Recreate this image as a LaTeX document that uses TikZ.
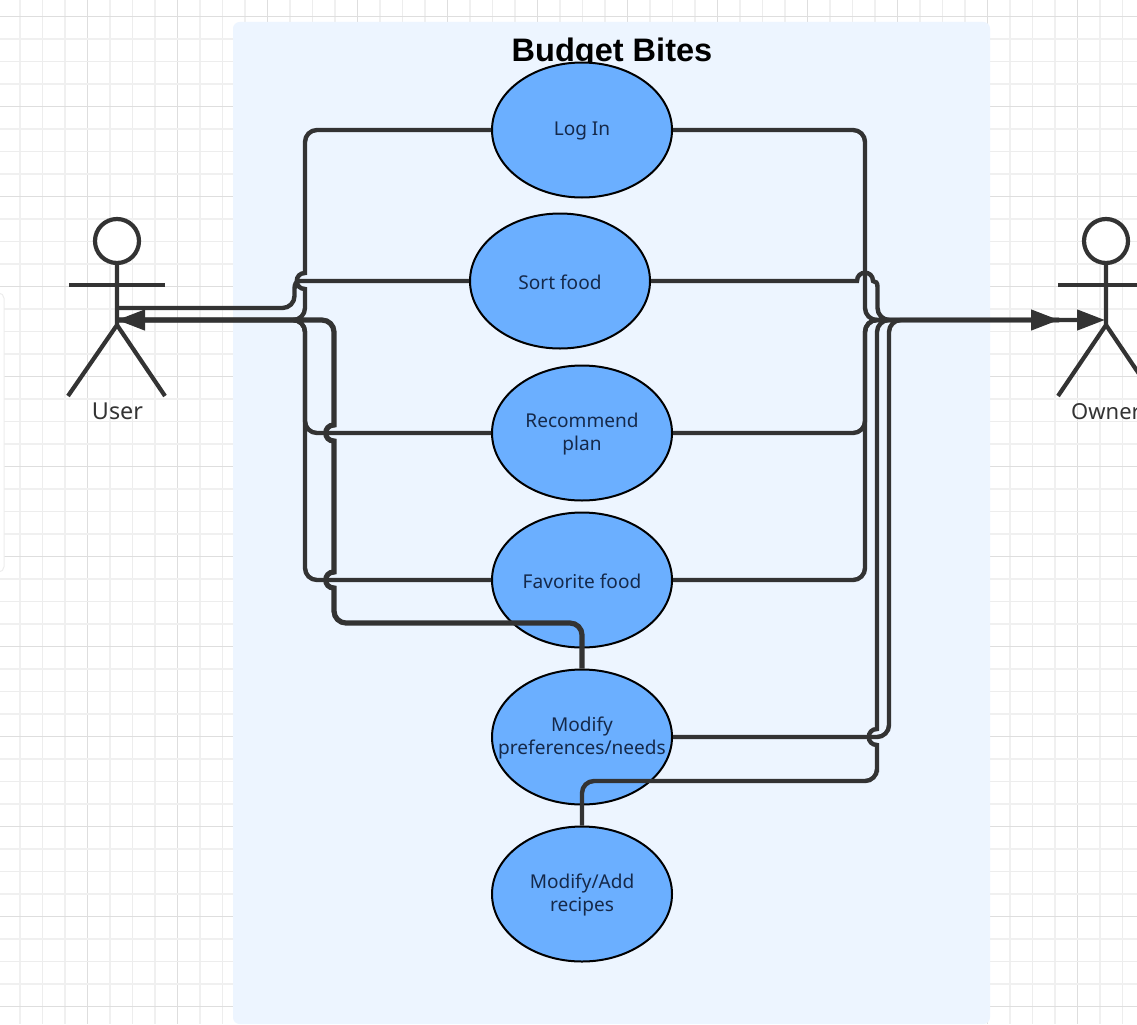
\documentclass[tikz,border=0pt]{standalone}
\usepackage{fontspec}
\setmainfont{Noto Sans}
\newfontfamily\titlefont{Liberation Sans}
\usetikzlibrary{shapes.geometric,arrows.meta}
\definecolor{gridA}{HTML}{F0F0F0}
\definecolor{gridB}{HTML}{EDEDED}
\definecolor{gridC}{HTML}{DEDEDE}
\definecolor{panel}{HTML}{EDF5FF}
\definecolor{usecase}{HTML}{6BAFFF}
\definecolor{ink}{HTML}{333333}
\definecolor{casetext}{HTML}{15294A}
\tikzset{
  usecasebox/.style={ellipse,draw=black,line width=1.5pt,fill=usecase,minimum width=135pt,minimum height=101.25pt,inner sep=0pt},
  caselabel/.style={align=center,text=casetext,inner sep=0pt,yshift=-0.9pt,font=\fontsize{14.3}{17.25}\selectfont},
  link/.style={draw=ink,line width=3.3pt,rounded corners=9pt},
  heavylink/.style={link,line width=3.9pt},
  tiplink/.style={-{Triangle[length=21pt,width=15pt,fill=ink]}},
  limb/.style={draw=ink,line width=3.15pt},
  actorlabel/.style={font=\fontsize{17.5}{20}\selectfont,text=ink,inner sep=0pt},
  thingrid/.style={line width=1pt},
  widegrid/.style={line width=1.65pt},
}
\begin{document}
\begin{tikzpicture}[x=0.75pt,y=-0.75pt]
\useasboundingbox (0,0) rectangle (1137,1024);
\fill[white] (0,0) rectangle (1137,1024);
% grid
\foreach \i in {0,...,50}{
  \pgfmathsetmacro{\gx}{20+22.5*\i}
  \pgfmathtruncatemacro{\m}{mod(\i,4)}
  \ifnum\m=3 \draw[gridC,thingrid] (\gx,0) -- (\gx,1024);
  \else\ifodd\i \draw[gridB,thingrid] (\gx,0) -- (\gx,1024);
  \else \draw[gridA,widegrid] (\gx,0) -- (\gx,1024);\fi\fi
}
\foreach \i in {0,...,45}{
  \pgfmathsetmacro{\gy}{16.5+22.5*\i}
  \pgfmathtruncatemacro{\m}{mod(\i,4)}
  \ifnum\m=0 \draw[gridC,thingrid] (0,\gy) -- (1137,\gy);
  \else\ifodd\i \draw[gridA,widegrid] (0,\gy) -- (1137,\gy);
  \else \draw[gridB,thingrid] (0,\gy) -- (1137,\gy);\fi\fi
}
% left edge side panel
\draw[white!93!black,fill=white,line width=0.75pt,rounded corners=4pt] (-20,293) rectangle (4,572);
% system panel
\fill[panel,rounded corners=5pt] (233,22) rectangle (990,1024);
\node[font=\titlefont\fontsize{24.4}{28}\bfseries\selectfont,text=black,inner sep=0pt] (title) at (612,53) {Budget Bites};
% use cases
\node[usecasebox,label={[caselabel]center:Log In}] (login) at (582,130) {};
\node[usecasebox,label={[caselabel]center:Sort food}] (sort) at (560,281) {};
\node[usecasebox,label={[caselabel]center:Recommend\\plan}] (rec) at (582,433) {};
\node[usecasebox,label={[caselabel]center:Favorite food}] (fav) at (582,580) {};
\node[usecasebox,label={[caselabel]center:Modify\\preferences/needs}] (pref) at (582,737) {};
\node[usecasebox,label={[caselabel]center:Modify/Add\\recipes}] (add) at (582,894) {};
% user actor
\node[circle,draw=ink,line width=3.15pt,fill=white,minimum size=33pt,inner sep=0pt] (uhead) at (117,241) {};
\coordinate (uhip) at (117,325);
\coordinate (uarmL) at (69,285);
\coordinate (uarmR) at (165,285);
\coordinate (ulegL) at (68,396);
\coordinate (ulegR) at (165,396);
\coordinate (uhand) at (117,320);
\coordinate (uside) at (117,308);
\draw[limb] (uhead.south) -- (uhip) -- (ulegL);
\draw[limb] (uhip) -- (ulegR);
\draw[limb] (uarmL) -- (uarmR);
\node[actorlabel] (ulabel) at (117.5,411.5) {User};
% owner actor
\node[circle,draw=ink,line width=3.15pt,fill=white,minimum size=33pt,inner sep=0pt] (ohead) at (1106,241) {};
\coordinate (ohip) at (1106,325);
\coordinate (oarmL) at (1058,285);
\coordinate (oarmR) at (1154,285);
\coordinate (olegL) at (1058,396);
\coordinate (olegR) at (1154,396);
\coordinate (ohand) at (1105,320);
\coordinate (oshort) at (1059,320);
\draw[limb] (ohead.south) -- (ohip) -- (olegL);
\draw[limb] (ohip) -- (olegR);
\draw[limb] (oarmL) -- (oarmR);
\node[actorlabel,font=\fontsize{16.5}{20}\selectfont] (olabel) at (1106,411.5) {Owner};
% connectors, left side
\draw[link,tiplink] (login.west) -- (305,130) -- (305,250) [sharp corners] -- (305,273) .. controls (294,273) and (294,289) .. (305,289) -- (305,296) [rounded corners=9pt] -- (305,320) -- (uhand);
\draw[link] (sort.west) [sharp corners] -- (300,281) .. controls (296,281) and (294.5,284) .. (294.5,289) [rounded corners=9pt] -- (294.5,308) -- (uside);
\draw[link] (rec.west) -- (305,433) -- (305,320) -- (uhand);
\draw[link] (fav.west) -- (305,580) -- (305,320) -- (uhand);
\draw[heavylink] (pref.north) -- (582,623) -- (334,623) -- (334,600) [sharp corners] -- (334,588) .. controls (323,588) and (323,572) .. (334,572) -- (334,441) .. controls (323,441) and (323,425) .. (334,425) -- (334,400) [rounded corners=9pt] -- (334,320) -- (uhand);
% connectors, right side
\draw[link,tiplink] (login.east) -- (865,130) -- (865,320) -- (oshort);
\draw[link] (sort.east) [sharp corners] -- (857,281) .. controls (857,270) and (873,270) .. (873,281) .. controls (876,281) and (877.5,283) .. (877.5,287) [rounded corners=9pt] -- (877.5,320) -- (oshort);
\draw[link] (rec.east) -- (865,433) -- (865,320) -- (oshort);
\draw[link] (fav.east) -- (865,580) -- (865,320) -- (oshort);
\draw[link,tiplink] (pref.east) -- (889,737) -- (889,320) -- (ohand);
\draw[link] (add.north) -- (582,781) -- (877,781) -- (877,760) [sharp corners] -- (877,745) .. controls (866,745) and (866,729) .. (877,729) -- (877,700) [rounded corners=9pt] -- (877,320) -- (oshort);
\end{tikzpicture}
\end{document}
